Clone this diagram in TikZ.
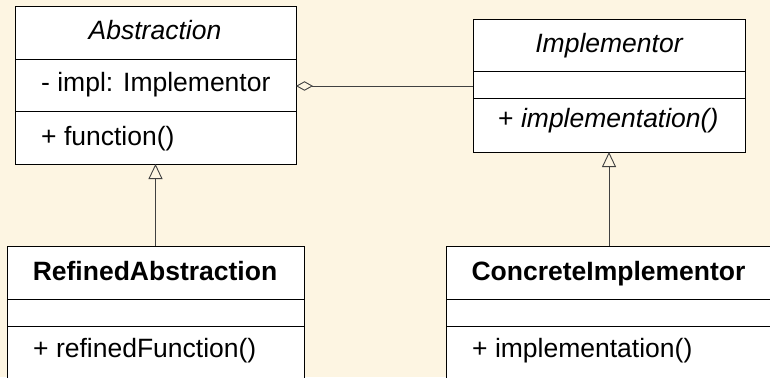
\documentclass[tikz,border=0pt]{standalone}
\usepackage{fontspec}
\setmainfont{Liberation Sans}
\usetikzlibrary{arrows.meta}
\definecolor{bgcream}{RGB}{253,245,226}
\definecolor{conn}{RGB}{64,64,64}
\tikzset{
  umlbox/.style={draw=black, fill=white, line width=1pt, inner sep=0pt, outer sep=0pt},
  sep/.style={draw=black, line width=1pt},
  txt/.style={inner sep=0pt, anchor=base, font=\fontsize{26.5}{30}\selectfont},
  txtl/.style={txt, anchor=base west},
  agg/.style={draw=conn, line width=0.9pt, {Diamond[open, length=17pt, width=9.5pt, line width=0.9pt]}-},
  inh/.style={draw=conn, line width=0.9pt, -{Triangle[open, length=15pt, width=14pt, line width=0.9pt]}}
}
\begin{document}
\begin{tikzpicture}[x=1pt, y=-1pt]
\useasboundingbox (0,0) rectangle (770,377);
\clip (0,0) rectangle (770,377);
\fill[bgcream] (0,0) rectangle (770,377);

% Abstraction
\node[umlbox, minimum width=281pt, minimum height=157pt] (abs) at (155.5,85.5) {};
\draw[sep] (15,60) -- (296,60);
\draw[sep] (15,112) -- (296,112);
\node[txt] (absT) at (155,40) {\itshape Abstraction};
\node[txtl] (absA) at (41,92) {- impl: Implementor};
\node[txtl] (absM) at (41,145) {+ function()};

% Implementor
\node[umlbox, minimum width=272pt, minimum height=132pt] (imp) at (609,86) {};
\draw[sep] (473,72) -- (745,72);
\draw[sep] (473,99) -- (745,99);
\node[txt] (impT) at (609,53) {\itshape Implementor};
\node[txtl] (impM) at (498,128) {+ \itshape implementation()};

% RefinedAbstraction
\node[umlbox, minimum width=297pt, minimum height=160pt] (ref) at (155.5,326) {};
\draw[sep] (7,299) -- (304,299);
\draw[sep] (7,326) -- (304,326);
\node[txt] (refT) at (155,280) {\bfseries RefinedAbstraction};
\node[txtl] (refM) at (33,357) {+ refinedFunction()};

% ConcreteImplementor
\node[umlbox, minimum width=330pt, minimum height=160pt] (con) at (611,326) {};
\draw[sep] (446,299) -- (780,299);
\draw[sep] (446,326) -- (780,326);
\node[txt] (conT) at (608.5,280) {\bfseries ConcreteImplementor};
\node[txtl] (conM) at (472,357) {+ implementation()};

% connectors
\draw[agg] (abs.east |- imp.west) -- (imp.west);
\draw[inh] (ref.north) -- (abs.south);
\draw[inh] (con.north -| imp.south) -- (imp.south);
\end{tikzpicture}
\end{document}
